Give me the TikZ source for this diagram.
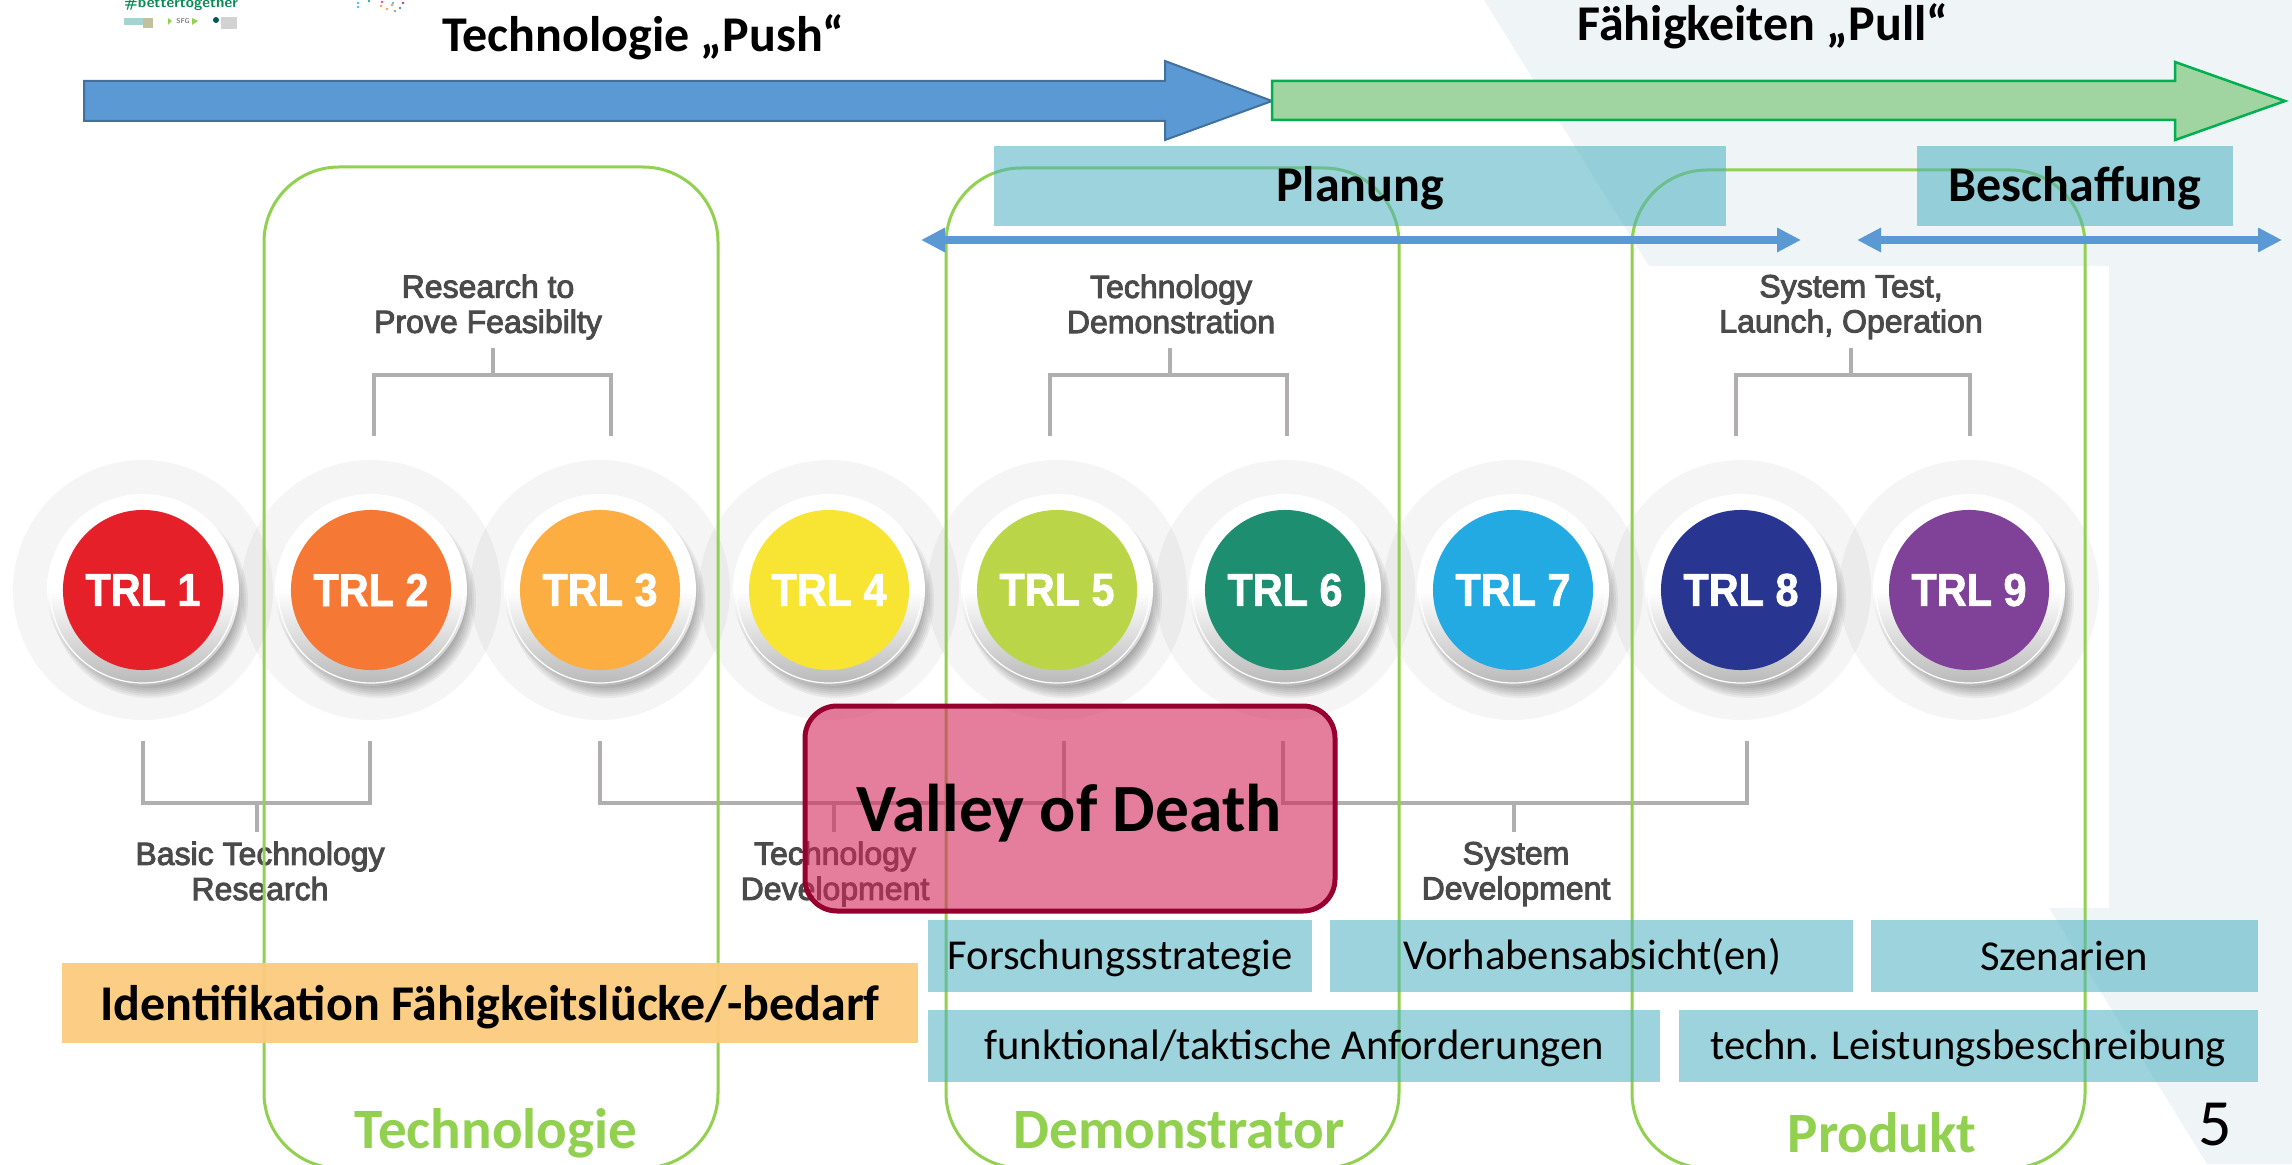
\documentclass[tikz,border=0pt]{standalone}
\usepackage{fontspec}
\setmainfont{Carlito}
\newfontfamily\trlfont[FakeStretch=0.9,FakeBold=1.5]{Liberation Sans}
\newfontfamily\lblfont[FakeBold=3]{Liberation Sans}
\usetikzlibrary{arrows.meta,shapes.geometric}
\newcommand\pxf[1]{\fontsize{\fpeval{#1*0.28453}pt}{\fpeval{#1*0.3}pt}\selectfont}
\definecolor{paleback}{RGB}{239,244,247}
\definecolor{barblue}{RGB}{91,153,213}
\definecolor{barblueline}{RGB}{65,113,156}
\definecolor{bargreen}{RGB}{160,212,160}
\definecolor{bargreenline}{RGB}{0,176,80}
\definecolor{limeline}{RGB}{146,208,80}
\definecolor{tealbase}{RGB}{75,176,192}
\definecolor{valleyfill}{RGB}{210,40,90}
\definecolor{valleyline}{RGB}{149,0,47}
\definecolor{orangebox}{RGB}{252,203,126}
\definecolor{brk}{RGB}{176,174,174}
\definecolor{lbl}{RGB}{74,74,74}
\definecolor{trlA}{RGB}{230,32,40}
\definecolor{trlB}{RGB}{245,120,52}
\definecolor{trlC}{RGB}{252,174,66}
\definecolor{trlD}{RGB}{248,228,50}
\definecolor{trlE}{RGB}{186,214,72}
\definecolor{trlF}{RGB}{30,142,112}
\definecolor{trlG}{RGB}{36,170,226}
\definecolor{trlH}{RGB}{40,54,146}
\definecolor{trlI}{RGB}{128,66,152}
\tikzset{
  x=0.01cm,y=-0.01cm,
  tealbox/.style={fill=tealbase,fill opacity=.55,draw=none},
  limebox/.style={draw=limeline,line width=0.03cm,rounded corners=0.75cm},
  bracket/.style={draw=brk,line width=0.045cm},
  dbl/.style={draw=barblue,line width=0.08cm,{Triangle[length=0.24cm,width=0.23cm]}-{Triangle[length=0.24cm,width=0.23cm]}},
  graylabel/.style={font=\lblfont\pxf{32},text=lbl,align=center,inner sep=0,anchor=center},
  boxtext/.style={font=\pxf{42.6},anchor=base,inner sep=0,text=black},
  boldtext/.style={font=\bfseries\pxf{50},anchor=base,inner sep=0,text=black},
  stagetext/.style={font=\bfseries\pxf{57},anchor=base,inner sep=0,text=limeline},
  trlcore/.style={circle,minimum size=1.6cm,inner sep=0,text=white,font=\trlfont\bfseries\pxf{46}},
}
\newcommand\trldisc[4]{%
  \fill[black,opacity=.04] (#2,590) circle[radius=130];
  \foreach \r in {98,96,94,92,90,88,86}{\fill[black,opacity=.05] (#2+7,590+10) circle[radius=\r];}
  \shade[shading angle=45,top color=white,bottom color=black!28,middle color=white] (#2,590) circle[radius=96];
  \draw[white,line width=0.012cm] (#2,590) circle[radius=93];
  \node[trlcore,fill=#3] (#1) at (#2,590) {#4};
}
\begin{document}
\begin{tikzpicture}
\useasboundingbox (0,0) rectangle (2292,1164);
\clip (0,0) rectangle (2292,1164);
\fill[white] (0,0) rectangle (2292,1164);
% pale background
\fill[paleback] (1484,0) -- (1649,266) -- (2109,266) -- (2109,908) -- (2049,908) -- (2207,1164) -- (2292,1164) -- (2292,0) -- cycle;
% logo strip
\node[font=\sffamily\bfseries\pxf{15},text={rgb,255:red,11;green,138;blue,85},inner sep=0] (hash) at (181,4) {\#bettertogether};
\fill[teal!35] (124,18) rectangle (143,25);
\fill[cyan!40!orange!60] (143,18) rectangle (153,28);
\fill[limeline] (168,18) -- (172,21) -- (168,25) -- cycle;
\node[font=\sffamily\bfseries\pxf{7},text=gray,inner sep=0] (sfg) at (183,21.5) {SFG};
\fill[limeline] (192,18) -- (198,21) -- (192,25) -- cycle;
\fill[teal!70!black] (216,20) circle[radius=3];
\fill[gray!35] (221,17) rectangle (237,29);
\foreach \dx/\dy/\c in {358/3/cyan,358/7/cyan,369/1/teal,382/2/magenta,393/3/cyan,403/3/violet,392/5/orange,400/8/teal,387/9/orange,395/11/gray,381/6/orange}{\fill[\c!75] (\dx,\dy) circle[radius=1.3];}
% top arrows
\draw[fill=barblue,draw=barblueline,line width=0.02cm] (84,81) -- (1165,81) -- (1165,61) -- (1272,101) -- (1165,140) -- (1165,121) -- (84,121) -- cycle;
\draw[fill=bargreen,draw=bargreenline,line width=0.025cm] (1272,81) -- (2175,81) -- (2175,62) -- (2285,101) -- (2175,140) -- (2175,120) -- (1272,120) -- cycle;
% brackets above
\coordinate (ra) at (374,436); \coordinate (rb) at (611,436); \coordinate (rs) at (493,348);
\draw[bracket] (ra) -- (374,375) -- (611,375) -- (rb); \draw[bracket] (rs) -- (493,375);
\coordinate (da) at (1050,436); \coordinate (db) at (1287,436); \coordinate (ds) at (1170,348);
\draw[bracket] (da) -- (1050,375) -- (1287,375) -- (db); \draw[bracket] (ds) -- (1170,375);
\coordinate (sa) at (1736,436); \coordinate (sb) at (1970,436); \coordinate (ss) at (1851,348);
\draw[bracket] (sa) -- (1736,375) -- (1970,375) -- (sb); \draw[bracket] (ss) -- (1851,375);
% brackets below
\coordinate (ba) at (143,741); \coordinate (bb) at (370,741); \coordinate (bs) at (257,832);
\draw[bracket] (ba) -- (143,803) -- (370,803) -- (bb); \draw[bracket] (bs) -- (257,803);
\coordinate (ta) at (600,741); \coordinate (tb) at (1064,741); \coordinate (ts) at (834,832);
\draw[bracket] (ta) -- (600,803) -- (1064,803) -- (tb); \draw[bracket] (ts) -- (834,803);
\coordinate (ya) at (1283,741); \coordinate (yb) at (1747,741); \coordinate (ys) at (1514,832);
\draw[bracket] (ya) -- (1283,803) -- (1747,803) -- (yb); \draw[bracket] (ys) -- (1514,803);
% TRL discs
\trldisc{trl1}{143}{trlA}{TRL 1}
\trldisc{trl2}{371}{trlB}{TRL 2}
\trldisc{trl3}{600}{trlC}{TRL 3}
\trldisc{trl4}{829}{trlD}{TRL 4}
\trldisc{trl5}{1057}{trlE}{TRL 5}
\trldisc{trl6}{1285}{trlF}{TRL 6}
\trldisc{trl7}{1513}{trlG}{TRL 7}
\trldisc{trl8}{1741}{trlH}{TRL 8}
\trldisc{trl9}{1969}{trlI}{TRL 9}
% gray labels
\node[graylabel] (l1) at (488,307) {Research to\\[0.4pt]Prove Feasibilty};
\node[graylabel] (l2) at (1171,304) {Technology\\[0.4pt]Demonstration};
\node[graylabel] (l3) at (1851,307) {System Test,\\[0.4pt]Launch, Operation};
\node[graylabel] (l4) at (260,871) {Basic Technology\\[0.4pt]Research};
\node[graylabel] (l5) at (835,874) {Technology\\[0.4pt]Development};
\node[graylabel] (l6) at (1516,874) {System\\[0.4pt]Development};
% stage outlines
\draw[limebox] (264,167) rectangle (718,1168);
\draw[limebox] (946,168) rectangle (1399,1168);
\draw[limebox] (1632,170) rectangle (2085,1168);
% planning bars
\node[tealbox,minimum width=7.32cm,minimum height=0.8cm,inner sep=0,anchor=north west] (planbox) at (993,145) {};
\node[tealbox,minimum width=3.16cm,minimum height=0.8cm,inner sep=0,anchor=north west] (beschbox) at (1916,145) {};
\coordinate (pa) at (921,240); \coordinate (pb) at (1801,240);
\coordinate (qa) at (1857,240); \coordinate (qb) at (2282,240);
\draw[dbl] (pa) -- (pb);
\draw[dbl] (qa) -- (qb);
% lower boxes
\fill[orangebox,opacity=.95] (62,963) rectangle (918,1043);
\fill[tealbox] (928,920) rectangle (1312,992);
\fill[tealbox] (1330,920) rectangle (1853,992);
\fill[tealbox] (1871,920) rectangle (2258,992);
\fill[tealbox] (928,1010) rectangle (1660,1082);
\fill[tealbox] (1679,1010) rectangle (2258,1082);
% valley
\draw[draw=valleyline,line width=0.05cm,fill=valleyfill,fill opacity=.6,rounded corners=0.32cm] (805,706) rectangle (1335,911);
% texts
\node[boldtext] (push) at (643,52) {Technologie „Push“};
\node[boldtext] (pull) at (1763,41) {Fähigkeiten „Pull“};
\node[boldtext] (plan) at (1360,202) {Planung};
\node[boldtext] (besch) at (2075,202) {Beschaffung};
\node[boldtext,font=\bfseries\pxf{67.5}] (valley) at (1069,831) {Valley of Death};
\node[boldtext] (ident) at (490,1020) {Identifikation Fähigkeitslücke/-bedarf};
\node[boxtext] (fs) at (1120,969) {Forschungsstrategie};
\node[boxtext] (vh) at (1592,969) {Vorhabensabsicht(en)};
\node[boxtext] (sz) at (2064,970) {Szenarien};
\node[boxtext] (fk) at (1294,1059) {funktional/taktische Anforderungen};
\node[boxtext] (tl) at (1968,1059) {techn. Leistungsbeschreibung};
\node[stagetext] (st1) at (496,1148) {Technologie};
\node[stagetext] (st2) at (1179,1148) {Demonstrator};
\node[stagetext] (st3) at (1882,1152) {Produkt};
\node[font=\pxf{66},anchor=base,inner sep=0] (page) at (2215,1145) {5};
\end{tikzpicture}
\end{document}
